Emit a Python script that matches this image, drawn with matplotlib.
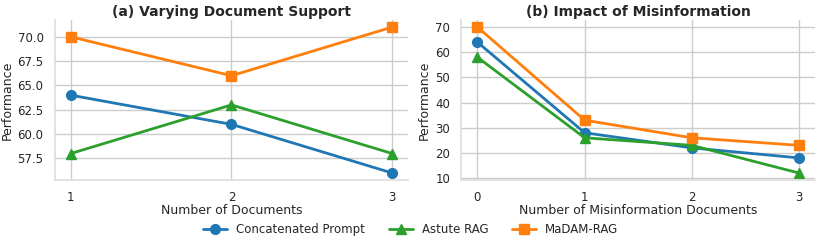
import matplotlib.pyplot as plt
import seaborn as sns
from matplotlib.ticker import MultipleLocator

sns.set_theme(style="whitegrid")
plt.rcParams['font.family'] = ['DejaVu Sans']

# (a) varying document support
docs = [1, 2, 3]
concat_a = [64, 61, 56]
astute_a = [58, 63, 58]
madam_a = [70, 66, 71]

# (b) impact of misinformation
misinfo = [0, 1, 2, 3]
concat_b = [64, 28, 22, 18]
astute_b = [58, 26, 23, 12]
madam_b = [70, 33, 26, 23]

blue, orange, green = "#1f77b4", "#ff7f0e", "#2ca02c"

fig, (ax1, ax2) = plt.subplots(1, 2, figsize=(8.22, 2.47), dpi=100)

ax1.plot(docs, concat_a, marker="o", color=blue, lw=2, ms=7, label="Concatenated Prompt")
ax1.plot(docs, astute_a, marker="^", color=green, lw=2, ms=7, label="Astute RAG")
ax1.plot(docs, madam_a, marker="s", color=orange, lw=2, ms=7, label="MaDAM-RAG")
ax1.set_xticks(docs)
ax1.yaxis.set_major_locator(MultipleLocator(2.5))
ax1.set_title("(a) Varying Document Support", fontweight="bold", fontsize=10, pad=3)
ax1.set_xlabel("Number of Documents", labelpad=0)
ax1.set_ylabel("Performance", labelpad=3)

ax2.plot(misinfo, concat_b, marker="o", color=blue, lw=2, ms=7)
ax2.plot(misinfo, astute_b, marker="^", color=green, lw=2, ms=7)
ax2.plot(misinfo, madam_b, marker="s", color=orange, lw=2, ms=7)
ax2.set_xticks(misinfo)
ax2.set_yticks([10, 20, 30, 40, 50, 60, 70])
ax2.set_title("(b) Impact of Misinformation", fontweight="bold", fontsize=10, pad=3)
ax2.set_xlabel("Number of Misinformation Documents", labelpad=0)
ax2.set_ylabel("Performance", labelpad=3)

for ax in (ax1, ax2):
    sns.despine(ax=ax)
    ax.tick_params(labelsize=8.5, pad=2)
    ax.xaxis.label.set_size(9)
    ax.yaxis.label.set_size(9)
    for s in ("left", "bottom"):
        ax.spines[s].set_color("#dddddd")
        ax.spines[s].set_linewidth(1.2)

handles, labels = ax1.get_legend_handles_labels()
fig.legend(handles, labels, loc="lower center", ncol=3, frameon=False,
           fontsize=8.5, bbox_to_anchor=(0.5, 0.0), columnspacing=2)

fig.subplots_adjust(left=0.0665, right=0.9915, top=0.92, bottom=0.27, wspace=0.15)
fig.savefig("out.png")
